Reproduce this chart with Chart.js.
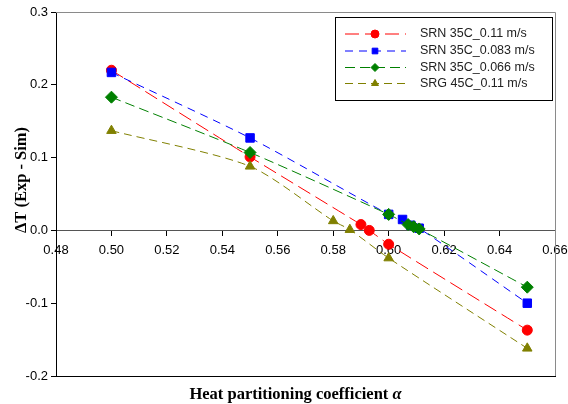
<!DOCTYPE html>
<html>
<head>
<meta charset="utf-8">
<script src="https://cdn.jsdelivr.net/npm/chart.js@4"></script>
<style>
  html, body { margin: 0; padding: 0; background: #fff; }
  #wrap { width: 568px; height: 404px; position: relative; }
</style>
</head>
<body>
<div id="wrap"><canvas id="chart"></canvas></div>
<script>
// values
const seriesNames = ['SRN 35C_0.11 m/s', 'SRN 35C_0.083 m/s', 'SRN 35C_0.066 m/s', 'SRG 45C_0.11 m/s'];

const alphaRed = [0.50, 0.55, 0.590, 0.593, 0.600, 0.65];
const dtRed = [0.220, 0.101, 0.008, 0.000, -0.019, -0.137];

const alphaBlue = [0.50, 0.55, 0.600, 0.605, 0.608, 0.611, 0.65];
const dtBlue = [0.217, 0.127, 0.022, 0.015, 0.007, 0.003, -0.100];

const alphaGreen = [0.50, 0.55, 0.600, 0.607, 0.609, 0.611, 0.65];
const dtGreen = [0.183, 0.107, 0.022, 0.008, 0.005, 0.002, -0.078];

const alphaOlive = [0.50, 0.55, 0.580, 0.586, 0.600, 0.65];
const dtOlive = [0.137, 0.088, 0.013, 0.001, -0.038, -0.162];

const xTicks = [0.48, 0.50, 0.52, 0.54, 0.56, 0.58, 0.60, 0.62, 0.64, 0.66];
const yTicks = [-0.2, -0.1, 0.0, 0.1, 0.2, 0.3];

const xTitle = 'Heat partitioning coefficient ';
const xTitleSymbol = 'α';
const yTitle = 'ΔT (Exp - Sim)';

function pairs(xs, ys) {
    return xs.map((x, i) => ({ x: x, y: ys[i] }));
}

function makeSet(label, xs, ys, color, style, radius, dash, order) {
    return {
        label: label,
        data: pairs(xs, ys),
        borderColor: color,
        backgroundColor: color,
        pointBackgroundColor: color,
        pointBorderColor: color,
        pointStyle: style,
        pointRadius: radius,
        borderWidth: 1,
        borderDash: dash,
        tension: 0.25,
        showLine: true,
        fill: false,
        order: order
    };
}

// plot frame (top / right gray)
const framePlugin = {
    id: 'frame',
    afterDraw(chart) {
        const a = chart.chartArea;
        const ctx = chart.ctx;
        ctx.save();
        ctx.lineWidth = 1;
        ctx.strokeStyle = '#8a8a8a';
        ctx.beginPath();
        ctx.moveTo(a.left, a.top + 0.5);
        ctx.lineTo(a.right + 0.5, a.top + 0.5);
        ctx.lineTo(a.right + 0.5, a.bottom);
        ctx.stroke();
        ctx.restore();
    }
};

// axis titles, placed like in the figure
const titlePlugin = {
    id: 'titles',
    afterDraw(chart) {
        const ctx = chart.ctx;
        ctx.save();
        ctx.fillStyle = '#000';
        const bold = 'bold 16.5px "Liberation Serif", "Times New Roman", serif';
        const boldItalic = 'italic bold 16.5px "Liberation Serif", "Times New Roman", serif';
        ctx.textBaseline = 'alphabetic';
        ctx.font = bold;
        const w1 = ctx.measureText(xTitle).width;
        ctx.font = boldItalic;
        const w2 = ctx.measureText(xTitleSymbol).width;
        let x = 295.5 - (w1 + w2) / 2;
        ctx.font = bold;
        ctx.textAlign = 'left';
        ctx.fillText(xTitle, x, 398.5);
        ctx.font = boldItalic;
        ctx.fillText(xTitleSymbol, x + w1, 398.5);

        ctx.translate(22, 180);
        ctx.rotate(-Math.PI / 2);
        ctx.font = bold;
        ctx.textAlign = 'center';
        ctx.textBaseline = 'middle';
        ctx.fillText(yTitle, 0, 0);
        ctx.restore();
    }
};

// legend box in the upper right
const legendPlugin = {
    id: 'boxLegend',
    afterDraw(chart) {
        const ctx = chart.ctx;
        const bx = 335.5, by = 17.5, bw = 217, bh = 83;
        ctx.save();
        ctx.fillStyle = '#fff';
        ctx.fillRect(bx, by, bw, bh);
        ctx.strokeStyle = '#000';
        ctx.lineWidth = 1;
        ctx.strokeRect(bx, by, bw, bh);
        const rows = [34, 51, 67.5, 83.5];
        chart.data.datasets.forEach((ds, i) => {
            const y = rows[i];
            ctx.strokeStyle = ds.borderColor;
            ctx.lineWidth = 1;
            ctx.setLineDash(ds.borderDash);
            ctx.beginPath();
            ctx.moveTo(345, y);
            ctx.lineTo(406, y);
            ctx.stroke();
            ctx.setLineDash([]);
            ctx.fillStyle = ds.backgroundColor;
            ctx.strokeStyle = ds.borderColor;
            Chart.helpers.drawPoint(ctx, { pointStyle: ds.pointStyle, radius: 4, borderWidth: 1 }, 375, y);
            ctx.fillStyle = '#222';
            ctx.font = '12.5px "Liberation Sans", Arial, sans-serif';
            ctx.textBaseline = 'middle';
            ctx.textAlign = 'left';
            ctx.fillText(ds.label, 420, y);
        });
        ctx.restore();
    }
};

const ctx = document.getElementById('chart').getContext('2d');
new Chart(ctx, {
    type: 'scatter',
    data: {
        datasets: [
            makeSet(seriesNames[0], alphaRed, dtRed, '#ff0000', 'circle', 5, [14, 6], 3),
            makeSet(seriesNames[1], alphaBlue, dtBlue, '#0000ff', 'rect', 6, [8, 6], 2),
            makeSet(seriesNames[2], alphaGreen, dtGreen, '#008000', 'rectRot', 6, [10, 5], 1),
            makeSet(seriesNames[3], alphaOlive, dtOlive, '#808000', 'triangle', 5.5, [8, 5], 0)
        ]
    },
    options: {
        responsive: true,
        maintainAspectRatio: false,
        animation: false,
        layout: { padding: { top: 12, right: 13, left: 0, bottom: 0 } },
        plugins: {
            legend: { display: false },
            tooltip: { enabled: false }
        },
        scales: {
            x: {
                type: 'linear',
                position: { y: 0 },
                min: 0.48,
                max: 0.66,
                afterBuildTicks(scale) {
                    scale.ticks = xTicks.map(v => ({ value: v }));
                },
                afterFit(scale) {
                    scale.paddingLeft = 0;
                    scale.paddingRight = 0;
                },
                ticks: {
                    color: '#000',
                    padding: 7,
                    maxRotation: 0,
                    font: { family: '"Liberation Sans", Arial, sans-serif', size: 13 },
                    callback: v => v.toFixed(2)
                },
                grid: { drawOnChartArea: false, drawTicks: true, tickLength: 5, color: '#000' },
                border: { display: true, color: '#555', width: 1 }
            },
            xb: {
                type: 'linear',
                position: 'bottom',
                min: 0.48,
                max: 0.66,
                ticks: { display: false },
                grid: { display: false },
                border: { display: true, color: '#000', width: 1 },
                afterFit(scale) { scale.height = 28; }
            },
            y: {
                type: 'linear',
                min: -0.2,
                max: 0.3,
                afterBuildTicks(scale) {
                    scale.ticks = yTicks.map(v => ({ value: v }));
                },
                ticks: {
                    color: '#000',
                    padding: 3,
                    font: { family: '"Liberation Sans", Arial, sans-serif', size: 13 },
                    callback: v => v.toFixed(1)
                },
                grid: { drawOnChartArea: false, drawTicks: true, tickLength: 5, color: '#000' },
                border: { display: true, color: '#000', width: 1 },
                afterFit(scale) { scale.width = 56; }
            }
        }
    },
    plugins: [framePlugin, titlePlugin, legendPlugin]
});
</script>
</body>
</html>
